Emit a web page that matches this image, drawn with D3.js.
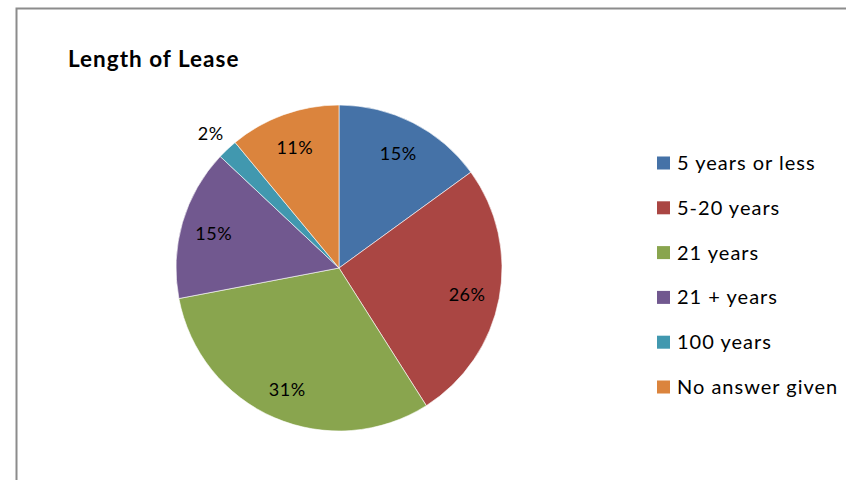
<!DOCTYPE html>
<html>
<head>
<meta charset="utf-8">
<script src="https://cdn.jsdelivr.net/npm/d3@7"></script>
<style>
  html, body { margin: 0; padding: 0; background: #fff; }
  svg text { font-family: Lato, "Open Sans", sans-serif; fill: #000; }
</style>
</head>
<body>
<svg id="chart" width="846" height="480"></svg>
<script>
// Lease length survey responses (percent)
const categories = ["5 years or less", "5-20 years", "21 years", "21 + years", "100 years", "No answer given"];
const values = [15, 26, 31, 15, 2, 11];
const colors = ["#4572A7", "#AA4643", "#89A54E", "#71588F", "#4198AF", "#DB843D"];
const title = "Length of Lease";

const svg = d3.select("#chart");

// outer frame
svg.append("path")
  .attr("d", "M16.5,480 L16.5,8.5 L846,8.5")
  .attr("fill", "none")
  .attr("stroke", "#8c8c8c")
  .attr("stroke-width", 2);

svg.append("text")
  .attr("x", 68).attr("y", 67)
  .attr("font-size", 22.5).attr("font-weight", "bold")
  .attr("letter-spacing", 1)
  .text(title);

const cx = 339, cy = 268, r = 163;
const data = categories.map((c, i) => ({ name: c, value: values[i], color: colors[i] }));

const pie = d3.pie().sort(null).value(d => d.value);
const arcs = pie(data);
const arc = d3.arc().innerRadius(0).outerRadius(r);
const labelArc = d3.arc().innerRadius(r * 0.8).outerRadius(r * 0.8);
const outerLabelArc = d3.arc().innerRadius(r * 1.15).outerRadius(r * 1.15);

const g = svg.append("g").attr("transform", `translate(${cx},${cy})`);

g.selectAll("path.slice")
  .data(arcs)
  .enter().append("path")
  .attr("class", "slice")
  .attr("d", arc)
  .attr("fill", d => d.data.color)
  .attr("stroke", "#fff")
  .attr("stroke-width", 0.6);

g.selectAll("text.pct")
  .data(arcs)
  .enter().append("text")
  .attr("class", "pct")
  .attr("transform", d => {
    const p = d.data.value < 5 ? outerLabelArc.centroid(d) : labelArc.centroid(d);
    return `translate(${p[0]},${p[1] + 2})`;
  })
  .attr("text-anchor", "middle")
  .attr("dy", "0.35em")
  .attr("font-size", 18)
  .attr("letter-spacing", 0.5)
  .text(d => d.data.value + "%");

// legend
const legend = svg.append("g").attr("transform", "translate(657,163)");
const rows = legend.selectAll("g.row")
  .data(data)
  .enter().append("g")
  .attr("class", "row")
  .attr("transform", (d, i) => `translate(0,${i * 44.8})`);

rows.append("rect")
  .attr("x", 0).attr("y", -6.5)
  .attr("width", 13).attr("height", 13)
  .attr("fill", d => d.color);

rows.append("text")
  .attr("x", 20).attr("y", 0)
  .attr("dy", "0.35em")
  .attr("font-size", 20)
  .attr("letter-spacing", 1)
  .text(d => d.name);
</script>
</body>
</html>
